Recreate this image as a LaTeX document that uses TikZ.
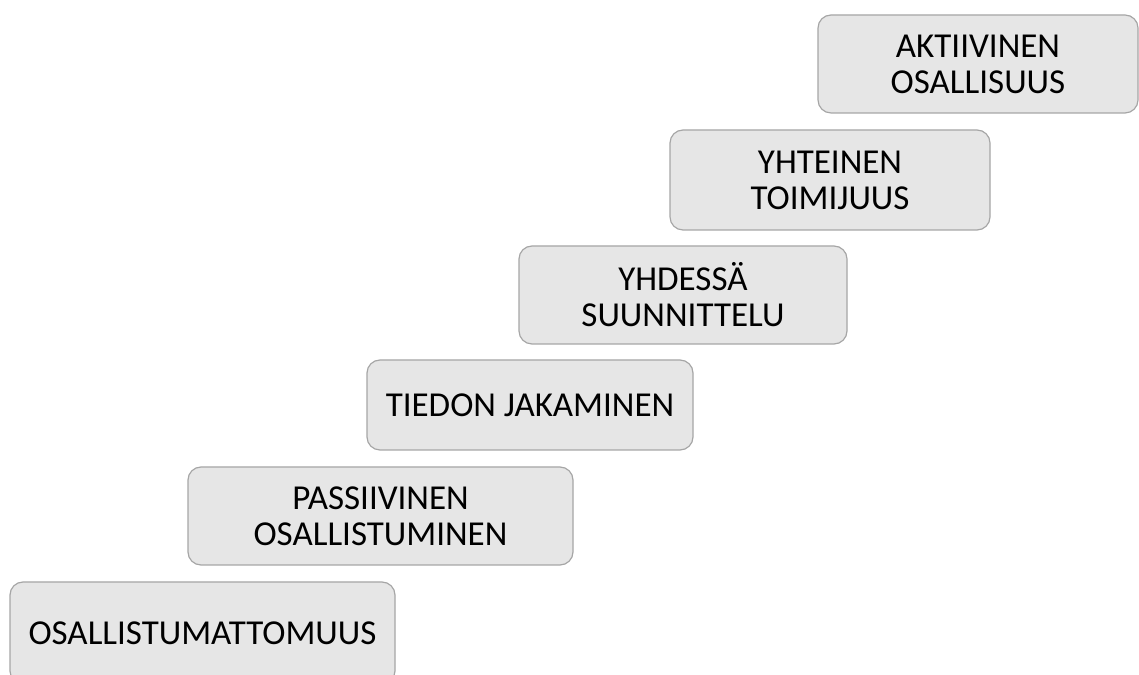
\documentclass[tikz,border=0pt]{standalone}
\usepackage{fontspec}
\setmainfont{Carlito}
\definecolor{boxfill}{HTML}{E6E6E6}
\definecolor{boxline}{HTML}{A6A6A6}
\tikzset{
  stair/.style={draw=boxline, fill=boxfill, line width=1.2pt, rounded corners=13pt,
    inner sep=0pt, align=center, font=\fontsize{35}{36}\selectfont, text=black}
}
\begin{document}
\begin{tikzpicture}[x=1pt,y=1pt]
\useasboundingbox (0,0) rectangle (1139,674);
\clip (0,0) rectangle (1139,674);
\node[stair, minimum width=385pt, minimum height=102pt] (a) at (202.5,41) {OSALLISTUMATTOMUUS};
\node[stair, minimum width=385pt, minimum height=98pt] (b) at (380.5,158) {PASSIIVINEN\\OSALLISTUMINEN};
\node[stair, minimum width=326pt, minimum height=90pt] (c) at (530,269) {TIEDON JAKAMINEN};
\node[stair, minimum width=328pt, minimum height=98pt] (d) at (683,379) {YHDESSÄ\\SUUNNITTELU};
\node[stair, minimum width=320pt, minimum height=100pt] (e) at (830,494) {YHTEINEN\\TOIMIJUUS};
\node[stair, minimum width=320pt, minimum height=98pt] (f) at (978,610) {AKTIIVINEN\\OSALLISUUS};
\end{tikzpicture}
\end{document}
